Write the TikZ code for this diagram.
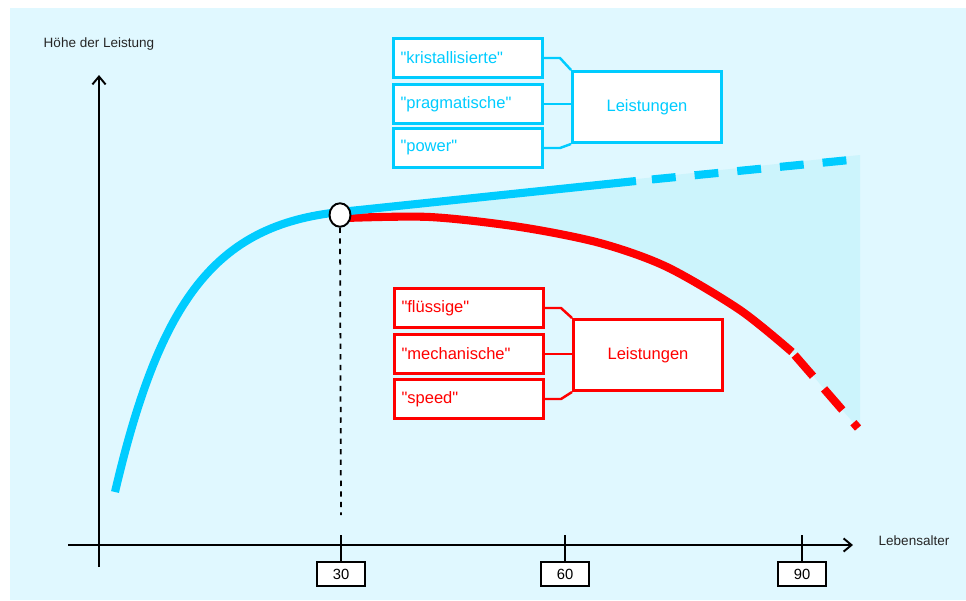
\documentclass[tikz,border=0pt]{standalone}
\usepackage{fontspec}
\setmainfont{Liberation Sans}
\usetikzlibrary{arrows.meta,shapes.geometric}
\definecolor{hgblue}{RGB}{0,204,255}
\definecolor{hgred}{RGB}{255,0,0}
\definecolor{hgback}{RGB}{224,248,255}
\definecolor{hgarea}{RGB}{204,244,252}
\newcommand\quoted[1]{\textquotedbl#1\textquotedbl}

\begin{document}
\begin{tikzpicture}
  [x=0.02cm,y=-0.02cm,
   axisline/.style={line width=1.1pt,-{Straight Barb[length=4.5pt,width=7.5pt]}},
   curve/.style={line width=4.6pt},
   kind/.style={draw=#1,text=#1,fill=white,line width=1.7pt,text width=2.7cm,inner xsep=0.14cm,
     minimum height=0.78cm,align=left,font=\fontsize{9.4}{11}\selectfont},
   group/.style={draw=#1,text=#1,fill=white,line width=1.7pt,minimum width=2.98cm,minimum height=1.42cm,
     font=\fontsize{9.4}{11}\selectfont},
   agebox/.style={draw,fill=white,line width=1.1pt,minimum width=0.96cm,minimum height=0.48cm,
     inner sep=0pt,font=\fontsize{8.4}{9}\selectfont},
   axislabel/.style={text=black!85,font=\fontsize{7.7}{9}\selectfont}]

  \fill[hgback] (10,8) rectangle (966,600);
  \useasboundingbox (0,0) rectangle (966,600);

  \fill[hgarea] (340,211) -- (860,155) -- (860,428)
    -- plot[smooth] coordinates {(858,428) (825,390) (792,352) (740,310) (667,267) (600,243) (520,227) (430,217) (345,218)} -- cycle;

  \coordinate (ybot) at (99,567);
  \coordinate (ytop) at (99,75);
  \coordinate (xbeg) at (68,545);
  \coordinate (xend) at (853,545);
  \draw[axisline] (ybot) -- (ytop);
  \draw[axisline] (xbeg) -- (xend);
  \node[axislabel] (ylab) at (99,44) {Höhe der Leistung};
  \node[axislabel] (xlab) at (914,541) {Lebensalter};

  \foreach \x/\n in {341/30,565/60,802/90} {
    \node[agebox] (t\n) at (\x,574) {\n};
    \draw[line width=1.1pt] (t\n.north) -- ++(0,-26);
  }

  \draw[curve,hgred] plot[smooth] coordinates {(345,218) (430,217) (520,227) (600,243) (667,267) (740,310) (792,352)};
  \draw[curve,hgred,dash pattern=on 15.9pt off 9.6pt,dash phase=23.2pt]
    plot[smooth] coordinates {(792,352) (825,390) (858,428)};

  \draw[curve,hgblue] (115,492) .. controls (160,300) and (215,225) .. (340,212) -- (636,181);
  \draw[curve,hgblue,dash pattern=on 13.6pt off 10.8pt,dash phase=15.3pt] (636,181) -- (860,159);

  \node[ellipse,draw,fill=white,line width=1.1pt,minimum width=0.42cm,minimum height=0.47cm,inner sep=0pt] (peak) at (340,215) {};
  \coordinate (dropend) at (341,515);
  \draw[dashed,line width=1pt] (peak.south) -- (dropend);

  \node[kind=hgblue] (kb1) at (468,58) {\quoted{kristallisierte}};
  \node[kind=hgblue] (kb2) at (468,104) {\quoted{pragmatische}};
  \node[kind=hgblue] (kb3) at (468,148) {\quoted{power}};
  \node[group=hgblue] (gb) at (647,107) {Leistungen};

  \node[kind=hgred] (kr1) at (469,308) {\quoted{flüssige}};
  \node[kind=hgred] (kr2) at (469,354) {\quoted{mechanische}};
  \node[kind=hgred] (kr3) at (469,399) {\quoted{speed}};
  \node[group=hgred] (gr) at (648,355) {Leistungen};

  \foreach \g/\c in {b/hgblue,r/hgred} {
    \draw[\c,line width=1.4pt] (k\g1.east) -- ++(16,0) -- (g\g.north west);
    \draw[\c,line width=1.4pt] (k\g2.east) -- (k\g2.east -| g\g.west);
    \draw[\c,line width=1.4pt] (k\g3.east) -- ++(16,0) -- (g\g.south west);
  }

\end{tikzpicture}
\end{document}
